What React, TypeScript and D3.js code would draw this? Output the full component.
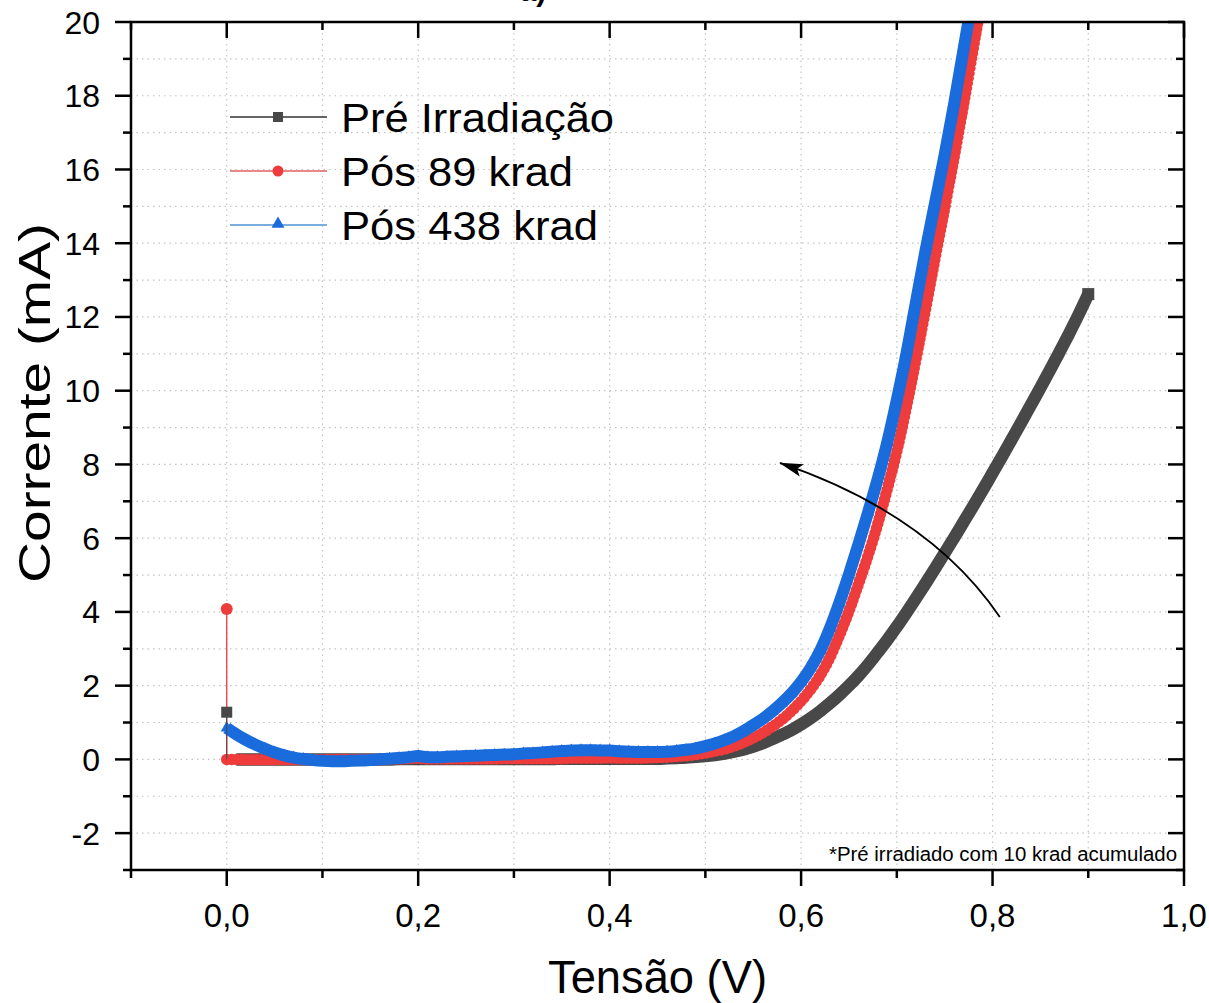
import React from 'react';
import * as d3 from 'd3';

const W = 1209;
const H = 1003;
const FONT = '"Liberation Sans", Arial, Helvetica, sans-serif';

// ---- data ----
const voltageStep = 0.01; // sweep step (V)
const preIrradiacao = [
  0.00, 0.00, 0.00, 0.00, 0.00, 0.00, 0.00, 0.00, 0.00, 0.00,
  0.00, 0.00, 0.00, 0.00, 0.00, 0.00, 0.00, 0.00, 0.01, 0.01,
  0.01, 0.01, 0.01, 0.01, 0.01, 0.01, 0.01, 0.01, 0.01, 0.01,
  0.01, 0.01, 0.01, 0.01, 0.01, 0.02, 0.02, 0.02, 0.02, 0.02,
  0.02, 0.02, 0.02, 0.02, 0.02, 0.02, 0.03, 0.04, 0.05, 0.07,
  0.09, 0.12, 0.16, 0.21, 0.27, 0.35, 0.44, 0.55, 0.67, 0.80,
  0.95, 1.12, 1.31, 1.52, 1.75, 2.00, 2.27, 2.57, 2.90, 3.24,
  3.60, 3.98, 4.37, 4.77, 5.18, 5.60, 6.02, 6.45, 6.88, 7.32,
  7.77, 8.22, 8.68, 9.14, 9.61, 10.08, 10.56, 11.05, 11.55, 12.07,
  12.62,
];
const pos89 = [
  0.00, 0.00, -0.01, -0.01, -0.01, -0.01, -0.01, -0.01, -0.01, -0.01,
  -0.01, 0.00, 0.00, 0.00, 0.00, 0.00, 0.00, 0.01, 0.01, 0.02,
  0.03, 0.01, 0.01, 0.01, 0.01, 0.01, 0.01, 0.01, 0.01, 0.02,
  0.02, 0.02, 0.02, 0.02, 0.02, 0.02, 0.03, 0.03, 0.03, 0.03,
  0.04, 0.03, 0.03, 0.03, 0.04, 0.05, 0.06, 0.08, 0.10, 0.13,
  0.17, 0.22, 0.28, 0.36, 0.46, 0.58, 0.72, 0.89, 1.08, 1.31,
  1.58, 1.90, 2.28, 2.76, 3.36, 4.02, 4.76, 5.53, 6.38, 7.33,
  8.35, 9.55, 10.85, 12.20, 13.60, 14.95, 16.35, 17.80, 19.30, 20.80,
];
const pos438 = [
  0.85, 0.68, 0.53, 0.40, 0.29, 0.19, 0.11, 0.05, 0.01, -0.02,
  -0.04, -0.05, -0.05, -0.04, -0.03, -0.02, 0.00, 0.02, 0.04, 0.06,
  0.09, 0.06, 0.06, 0.07, 0.08, 0.09, 0.10, 0.11, 0.12, 0.13,
  0.14, 0.16, 0.17, 0.19, 0.21, 0.23, 0.24, 0.25, 0.25, 0.24,
  0.24, 0.22, 0.21, 0.20, 0.20, 0.20, 0.21, 0.23, 0.26, 0.30,
  0.36, 0.43, 0.52, 0.63, 0.77, 0.93, 1.10, 1.30, 1.53, 1.79,
  2.10, 2.48, 2.95, 3.55, 4.25, 5.02, 5.84, 6.70, 7.60, 8.60,
  9.75, 11.00, 12.40, 13.80, 15.10, 16.40, 17.80, 19.30, 20.80,
];
// first readings at 0 V (spikes)
const preSpike = { v: 0, i: 1.28 };
const pos89Spike = { v: 0, i: 4.08 };

const seriesNames = ['Pré Irradiação', 'Pós 89 krad', 'Pós 438 krad'];
const xMajorTicks = [0.0, 0.2, 0.4, 0.6, 0.8, 1.0];
const xMinorTicks = [-0.1, 0.1, 0.3, 0.5, 0.7, 0.9];
const yMajorTicks = [-2, 0, 2, 4, 6, 8, 10, 12, 14, 16, 18, 20];
const yMinorTicks = [-3, -1, 1, 3, 5, 7, 9, 11, 13, 15, 17, 19];
const xGrid = [0.0, 0.1, 0.2, 0.3, 0.4, 0.5, 0.6, 0.7, 0.8, 0.9];
const yGrid = d3.range(-2, 20, 1);

// arrow annotation (data units): start, control, tip
const arrowPath = [[0.8076, 3.86], [0.7346, 6.66], [0.578, 8.04]];
const noteText = '*Pré irradiado com 10 krad acumulado';

const COLORS = { black: '#484848', red: '#EE3B3B', blue: '#1A6BDB' };

type Pt = { v: number; i: number };
const toPts = (arr: number[]): Pt[] => arr.map((i, k) => ({ v: k * voltageStep, i }));

export default function App() {
  const x = d3.scaleLinear().domain([-0.1, 1.0]).range([131, 1184]);
  const y = d3.scaleLinear().domain([-3, 20]).range([870, 22]);
  const [x0, x1] = x.range();
  const [y0, y1] = y.range();

  const band = d3
    .line<Pt>()
    .x((d) => x(d.v))
    .y((d) => y(d.i))
    .curve(d3.curveMonotoneX);
  const thin = d3
    .line<Pt>()
    .x((d) => x(d.v))
    .y((d) => y(d.i));

  const pre = toPts(preIrradiacao);
  const red = toPts(pos89);
  const blue = toPts(pos438);

  const tri = (cx: number, cy: number, s: number) => {
    const h = s * 0.866;
    return `M${cx},${cy - (2 * h) / 3}L${cx + s / 2},${cy + h / 3}L${cx - s / 2},${cy + h / 3}Z`;
  };

  const q = arrowPath;
  const arrowD = `M${x(q[0][0])},${y(q[0][1])}Q${x(q[1][0])},${y(q[1][1])} ${x(q[2][0])},${y(q[2][1])}`;

  const fmt = (v: number) => v.toFixed(1).replace('.', ',');
  const legendRows = [117, 171, 225];
  const legendWidths = [273, 232, 257];

  return (
    <svg
      width={W}
      height={H}
      style={{ position: 'absolute', left: 0, top: 0, background: '#fff' }}
      fontFamily={FONT}
    >
      <defs>
        <clipPath id="plot">
          <rect x={x0} y={y1} width={x1 - x0} height={y0 - y1} />
        </clipPath>
        <marker
          id="ah"
          viewBox="0 0 24 14"
          refX="23"
          refY="7"
          markerWidth="24"
          markerHeight="14"
          markerUnits="userSpaceOnUse"
          orient="auto"
        >
          <path d="M0,0.5 L24,7 L0,13.5 L5,7 Z" fill="#000" />
        </marker>
      </defs>
      <rect width={W} height={H} fill="#fff" />

      {/* title partially cut off at the top edge, as in the source */}
      <text x={533} y={1} fontSize={30} fontWeight="bold" textAnchor="middle">
        a)
      </text>

      {/* grid */}
      <g stroke="#c4c4c4" strokeWidth={1.2} strokeDasharray="1.5 4">
        {xGrid.map((v) => (
          <line key={'gx' + v} x1={x(v)} x2={x(v)} y1={y1} y2={y0} />
        ))}
        {yGrid.map((v) => (
          <line key={'gy' + v} x1={x0} x2={x1} y1={y(v)} y2={y(v)} />
        ))}
      </g>

      {/* data */}
      <g clipPath="url(#plot)">
        {/* Pré Irradiação */}
        <path d={band(pre.slice(1)) || ''} fill="none" stroke={COLORS.black} strokeWidth={12.5} strokeLinejoin="round" />
        <rect
          x={x(pre[pre.length - 1].v) - 6}
          y={y(pre[pre.length - 1].i) - 6}
          width={12}
          height={12}
          fill={COLORS.black}
        />
        {/* Pós 89 krad */}
        <path
          d={band(red) || ''}
          fill="none"
          stroke={COLORS.red}
          strokeWidth={11.5}
          strokeLinecap="round"
          strokeDasharray="0 5"
        />
        <path d={band(red) || ''} fill="none" stroke={COLORS.red} strokeWidth={9} />
        <path d={thin([pos89Spike, red[0]]) || ''} fill="none" stroke={COLORS.red} strokeWidth={1.3} />
        <circle cx={x(pos89Spike.v)} cy={y(pos89Spike.i)} r={6} fill={COLORS.red} />
        {/* Pós 438 krad */}
        <path d={band(blue) || ''} fill="none" stroke={COLORS.blue} strokeWidth={12} strokeLinejoin="round" />
        {blue.map((d, k) => (
          <path key={'t' + k} d={tri(x(d.v), y(d.i), 12)} fill={COLORS.blue} />
        ))}
        {/* black spike on top */}
        <path d={thin([preSpike, pre[0]]) || ''} fill="none" stroke={COLORS.black} strokeWidth={1} />
        <rect x={x(preSpike.v) - 5.5} y={y(preSpike.i) - 5.5} width={11} height={11} fill={COLORS.black} />
      </g>

      {/* arrow */}
      <path d={arrowD} fill="none" stroke="#000" strokeWidth={1.8} markerEnd="url(#ah)" />

      {/* frame */}
      <rect x={x0} y={y1} width={x1 - x0} height={y0 - y1} fill="none" stroke="#000" strokeWidth={2.5} />

      {/* ticks */}
      <g stroke="#000" strokeWidth={2.5}>
        {xMajorTicks.map((v) => (
          <g key={'xm' + v}>
            <line x1={x(v)} x2={x(v)} y1={y0} y2={y0 + 16} />
            <line x1={x(v)} x2={x(v)} y1={y1} y2={y1 + 16} />
          </g>
        ))}
        {xMinorTicks.map((v) => (
          <g key={'xn' + v}>
            <line x1={x(v)} x2={x(v)} y1={y0} y2={y0 + 8} />
            <line x1={x(v)} x2={x(v)} y1={y1} y2={y1 + 8} />
          </g>
        ))}
        {yMajorTicks.map((v) => (
          <g key={'ym' + v}>
            <line x1={x0} x2={x0 - 16} y1={y(v)} y2={y(v)} />
            <line x1={x1} x2={x1 - 16} y1={y(v)} y2={y(v)} />
          </g>
        ))}
        {yMinorTicks.map((v) => (
          <g key={'yn' + v}>
            <line x1={x0} x2={x0 - 8} y1={y(v)} y2={y(v)} />
            <line x1={x1} x2={x1 - 8} y1={y(v)} y2={y(v)} />
          </g>
        ))}
      </g>

      {/* tick labels */}
      <g fontSize={32} fill="#000">
        {yMajorTicks.map((v) => (
          <text key={'yl' + v} x={100} y={y(v)} dy="0.36em" textAnchor="end">
            {v < 0 ? '-' + Math.abs(v) : String(v)}
          </text>
        ))}
        {xMajorTicks.map((v) => (
          <text key={'xl' + v} x={x(v)} y={927} fontSize={33} textAnchor="middle">
            {fmt(v)}
          </text>
        ))}
      </g>

      {/* axis titles */}
      <text x={657.5} y={993} fontSize={46} textAnchor="middle" textLength={219} lengthAdjust="spacingAndGlyphs">
        Tensão (V)
      </text>
      <text
        transform={`translate(50,403) rotate(-90)`}
        fontSize={45}
        textAnchor="middle"
        textLength={360}
        lengthAdjust="spacingAndGlyphs"
      >
        Corrente (mA)
      </text>

      {/* note */}
      <text x={1177} y={861} fontSize={19.5} textAnchor="end" textLength={348} lengthAdjust="spacingAndGlyphs">
        {noteText}
      </text>

      {/* legend */}
      <g>
        <line x1={230} x2={327} y1={legendRows[0]} y2={legendRows[0]} stroke="#333" strokeWidth={1.4} />
        <rect x={273} y={legendRows[0] - 5} width={10} height={10} fill={COLORS.black} />
        <line x1={230} x2={327} y1={legendRows[1]} y2={legendRows[1]} stroke="#e06060" strokeWidth={1.3} />
        <circle cx={278} cy={legendRows[1]} r={5.5} fill={COLORS.red} />
        <line x1={230} x2={327} y1={legendRows[2]} y2={legendRows[2]} stroke="#7aaede" strokeWidth={2} />
        <path d={tri(278, legendRows[2] - 1, 13)} fill={COLORS.blue} />
        {seriesNames.map((n, k) => (
          <text
            key={n}
            x={341}
            y={legendRows[k]}
            dy="0.36em"
            fontSize={41}
            textLength={legendWidths[k]}
            lengthAdjust="spacingAndGlyphs"
          >
            {n}
          </text>
        ))}
      </g>
    </svg>
  );
}
